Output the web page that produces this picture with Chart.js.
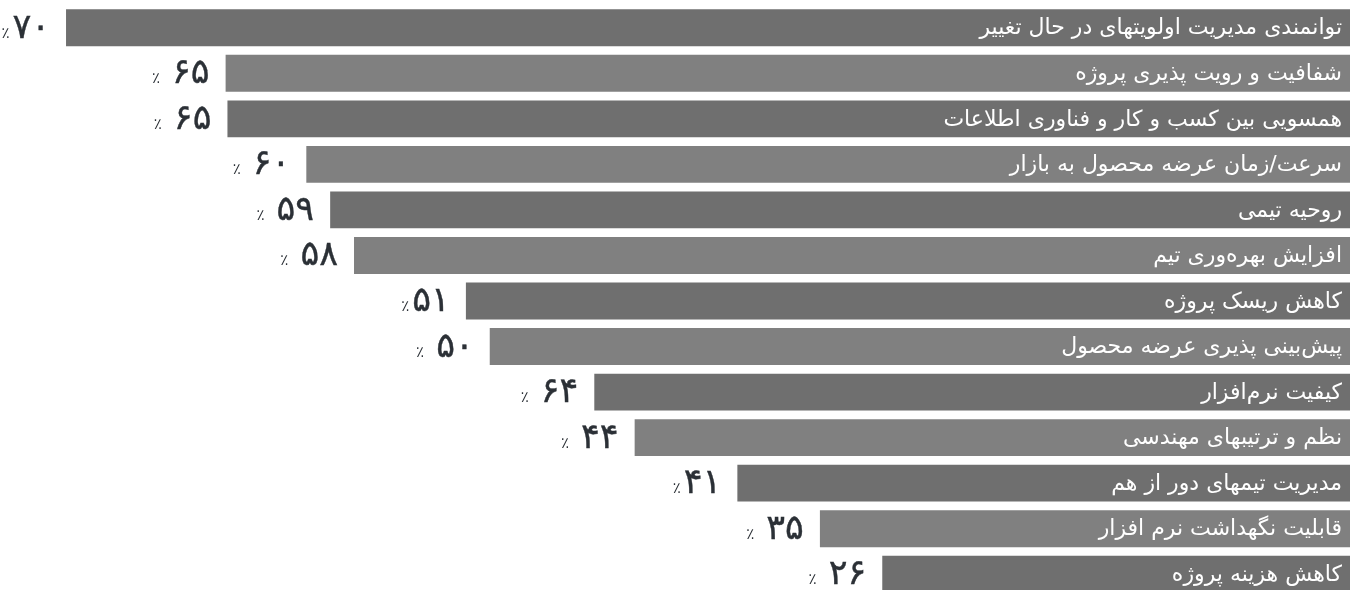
<!DOCTYPE html>
<html lang="fa">
<head>
<meta charset="utf-8">
<script src="https://cdn.jsdelivr.net/npm/chart.js@4"></script>
<style>
    html, body { margin: 0; padding: 0; background: #fff; overflow: hidden; }
    #wrap { width: 1350px; height: 600px; }
</style>
</head>
<body>
<div id="wrap"><canvas id="chart" width="1350" height="600"></canvas></div>
<script>
// categories, top to bottom
const categories = [
    'توانمندی مدیریت اولویتهای در حال تغییر',
    'شفافیت و رویت پذیری پروژه',
    'همسویی بین کسب و کار و فناوری اطلاعات',
    'سرعت/زمان عرضه محصول به بازار',
    'روحیه تیمی',
    'افزایش بهره‌وری تیم',
    'کاهش ریسک پروژه',
    'پیش‌بینی پذیری عرضه محصول',
    'کیفیت نرم‌افزار',
    'نظم و ترتیبهای مهندسی',
    'مدیریت تیمهای دور از هم',
    'قابلیت نگهداشت نرم افزار',
    'کاهش هزینه پروژه'
];

// bar lengths as drawn in the picture (same units as the percent labels)
const barValues = [70.0, 61.3, 61.2, 56.9, 55.6, 54.3, 48.2, 46.9, 41.2, 39.0, 33.4, 28.9, 25.5];

// percent labels as printed next to each bar
const percentLabels = [
    '٪۷۰', '٪ ۶۵', '٪ ۶۵', '٪ ۶۰', '٪ ۵۹', '٪ ۵۸', '٪۵۱',
    '٪ ۵۰', '٪ ۶۴', '٪ ۴۴', '٪۴۱', '٪ ۳۵', '٪ ۲۶'
];

const barColors = categories.map((c, i) => i % 2 === 0 ? '#6f6f6f' : '#808080');

const labelPlugin = {
    id: 'barLabels',
    afterDatasetsDraw(chart) {
        const ctx = chart.ctx;
        const meta = chart.getDatasetMeta(0);
        meta.data.forEach((bar, i) => {
            const left = Math.min(bar.x, bar.base);
            const right = Math.max(bar.x, bar.base);

            // category name inside the bar
            ctx.save();
            ctx.fillStyle = '#ffffff';
            ctx.font = '22px "DejaVu Sans"';
            ctx.direction = 'rtl';
            ctx.textAlign = 'right';
            ctx.textBaseline = 'middle';
            ctx.fillText(categories[i], right - 8, bar.y + 1);
            ctx.restore();

            // percent value to the left of the bar
            const text = percentLabels[i];
            const sign = text.charAt(0);
            const digits = text.slice(1);
            const gap = digits.startsWith(' ') ? 12 : 3;
            const baseY = bar.y + 10;
            ctx.save();
            ctx.direction = 'ltr';
            ctx.fillStyle = '#2b3036';
            ctx.strokeStyle = '#2b3036';
            ctx.lineWidth = 0.4;
            ctx.textBaseline = 'alphabetic';
            ctx.textAlign = 'right';
            ctx.font = '35px "DejaVu Sans"';
            const xDigits = left - 16;
            ctx.fillText(digits.trim(), xDigits, baseY);
            ctx.strokeText(digits.trim(), xDigits, baseY);
            const w = ctx.measureText(digits.trim()).width;
            ctx.font = '15px "DejaVu Sans"';
            ctx.fillText(sign, xDigits - w - gap, baseY);
            ctx.restore();
        });
    }
};

new Chart(document.getElementById('chart'), {
    type: 'bar',
    data: {
        labels: categories,
        datasets: [{
            data: barValues,
            backgroundColor: barColors,
            borderWidth: 0,
            categoryPercentage: 1,
            barPercentage: 0.81
        }]
    },
    options: {
        indexAxis: 'y',
        responsive: false,
        animation: false,
        devicePixelRatio: 1,
        layout: { padding: { top: 5, bottom: 3, left: 0, right: 0 } },
        plugins: {
            legend: { display: false },
            tooltip: { enabled: false }
        },
        scales: {
            x: { display: false, reverse: true, min: 0, max: 73.6 },
            y: { display: false }
        }
    },
    plugins: [labelPlugin]
});
</script>
</body>
</html>
